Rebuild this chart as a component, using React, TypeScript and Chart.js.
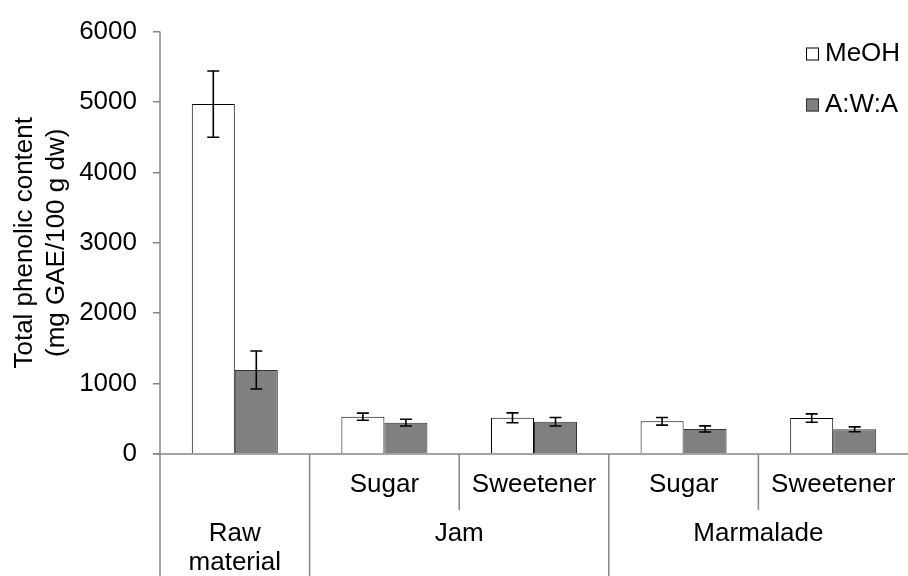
import React, { useEffect, useRef } from "react";
import { Chart, registerables } from "chart.js";

Chart.register(...registerables);

const subLabels = ["", "Sugar", "Sweetener", "Sugar", "Sweetener"];
const groupLabels = [["Raw", "material"], ["Jam"], ["Marmalade"]];
const groupSpans = [1, 2, 2];
const seriesNames = ["MeOH", "A:W:A"];
const meoh = [4970, 530, 514, 464, 510];
const meohErr = [470, 50, 70, 54, 60];
const awa = [1194, 445, 458, 356, 351];
const awaErr = [270, 48, 60, 43, 35];
const yTitle = ["Total phenolic content", "(mg GAE/100 g dw)"];

const FONT = '"Liberation Sans", Arial, sans-serif';
const FS = 26;
const AXIS = "#868686";

const overlay = {
  id: "overlay",
  afterDatasetsDraw(chart: any) {
    const ctx = chart.ctx;
    const errs = [meohErr, awaErr];
    const y = chart.scales.y;
    ctx.save();
    ctx.strokeStyle = "#000";
    ctx.lineWidth = 1.6;
    chart.data.datasets.forEach((ds: any, di: number) => {
      const meta = chart.getDatasetMeta(di);
      meta.data.forEach((el: any, i: number) => {
        const v = ds.data[i];
        const e = errs[di][i];
        const x = el.x;
        const yt = y.getPixelForValue(v + e);
        const yb = y.getPixelForValue(v - e);
        ctx.beginPath();
        ctx.moveTo(x, yt);
        ctx.lineTo(x, yb);
        ctx.moveTo(x - 6, yt);
        ctx.lineTo(x + 6, yt);
        ctx.moveTo(x - 6, yb);
        ctx.lineTo(x + 6, yb);
        ctx.stroke();
      });
    });
    ctx.restore();
  },
  afterDraw(chart: any) {
    const ctx = chart.ctx;
    const { left, right, top, bottom } = chart.chartArea;
    const H = chart.height;
    const n = subLabels.length;
    const w = (right - left) / n;
    ctx.save();
    ctx.strokeStyle = AXIS;
    ctx.lineWidth = 1.5;
    ctx.beginPath();
    ctx.moveTo(left, top);
    ctx.lineTo(left, H);
    ctx.moveTo(left - 7, bottom);
    ctx.lineTo(right, bottom);
    ctx.stroke();
    let k = 0;
    const groupBounds: number[] = [];
    groupSpans.forEach((s) => {
      k += s;
      groupBounds.push(k);
    });
    for (let i = 1; i < n; i++) {
      const x = left + i * w;
      const full = groupBounds.includes(i);
      ctx.beginPath();
      ctx.moveTo(x, bottom);
      ctx.lineTo(x, full ? H : 510);
      ctx.stroke();
    }
    ctx.fillStyle = "#000";
    ctx.font = `${FS}px ${FONT}`;
    ctx.textAlign = "center";
    ctx.textBaseline = "middle";
    subLabels.forEach((s, i) => {
      if (s) ctx.fillText(s, left + (i + 0.5) * w, 485);
    });
    let start = 0;
    groupLabels.forEach((lines, gi) => {
      const cx = left + (start + groupSpans[gi] / 2) * w;
      lines.forEach((ln, li) => ctx.fillText(ln, cx, 534 + li * 29));
      start += groupSpans[gi];
    });
    const cy = (top + bottom) / 2;
    yTitle.forEach((t, i) => {
      ctx.save();
      ctx.translate(25 + i * 32, cy);
      ctx.rotate(-Math.PI / 2);
      ctx.fillText(t, 0, 0);
      ctx.restore();
    });
    const colors = [
      ["#ffffff", "#000000"],
      ["#808080", "#333333"],
    ];
    ctx.textAlign = "left";
    seriesNames.forEach((nm, i) => {
      const ly = 54 + i * 51;
      ctx.fillStyle = colors[i][0];
      ctx.fillRect(806, ly - 6.5, 13, 13);
      ctx.strokeStyle = colors[i][1];
      ctx.lineWidth = 1;
      ctx.strokeRect(806.5, ly - 6, 12, 12);
      ctx.fillStyle = "#000";
      ctx.fillText(nm, 825, ly);
    });
    ctx.restore();
  },
};

export default function App() {
  const ref = useRef<HTMLCanvasElement>(null);
  useEffect(() => {
    if (!ref.current) return;
    const chart = new Chart(ref.current, {
      type: "bar",
      data: {
        labels: subLabels.map((s, i) => s || "Raw material" + i),
        datasets: [
          {
            label: seriesNames[0],
            data: meoh,
            backgroundColor: "#ffffff",
            borderColor: "#000000",
            borderWidth: 1,
            categoryPercentage: 0.575,
            barPercentage: 1,
          },
          {
            label: seriesNames[1],
            data: awa,
            backgroundColor: "#808080",
            borderColor: "#333333",
            borderWidth: 1,
            categoryPercentage: 0.575,
            barPercentage: 1,
          },
        ],
      },
      options: {
        animation: false,
        responsive: false,
        layout: { padding: { top: 27, right: 0, bottom: 0, left: 0 } },
        plugins: { legend: { display: false }, tooltip: { enabled: false } },
        scales: {
          x: {
            ticks: { display: false },
            grid: { display: false },
            border: { display: false },
            afterFit: (s: any) => {
              s.height = 122;
            },
          },
          y: {
            min: 0,
            max: 6000,
            ticks: {
              stepSize: 1000,
              color: "#000",
              padding: 16,
              font: { family: FONT, size: FS },
              callback: (v: any) => String(v),
            },
            grid: {
              drawOnChartArea: false,
              drawTicks: true,
              tickLength: 7,
              color: AXIS,
              lineWidth: 1.5,
            },
            border: { display: false },
            afterFit: (s: any) => {
              s.width = 160;
            },
          },
        },
      },
      plugins: [overlay],
    });
    return () => chart.destroy();
  }, []);
  return (
    <div style={{ position: "fixed", left: 0, top: 0, width: 908, height: 576, background: "#fff" }}>
      <canvas ref={ref} width={908} height={576} style={{ width: 908, height: 576 }} />
    </div>
  );
}
